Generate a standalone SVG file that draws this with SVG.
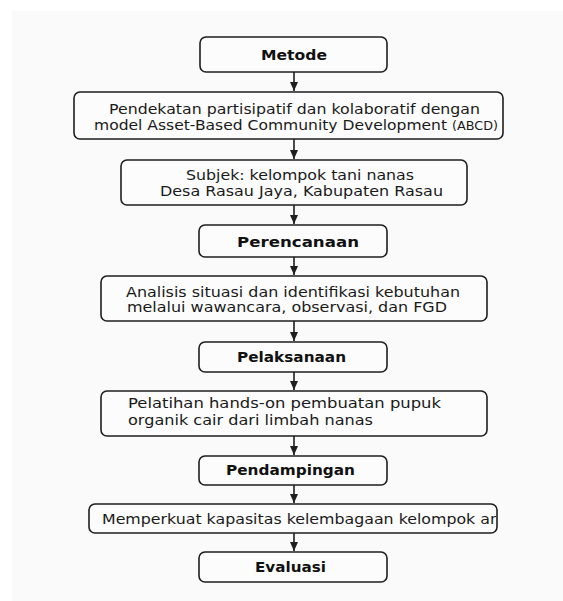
<svg xmlns="http://www.w3.org/2000/svg" width="563" height="601" viewBox="0 0 563 601">
<style>
.box{fill:#fcfcfc;stroke:#1e1e1e;stroke-width:1.6}
.t{font-family:"DejaVu Sans","Liberation Sans",sans-serif;font-size:14px;fill:#1a1a1a}
.b{font-family:"DejaVu Sans","Liberation Sans",sans-serif;font-size:14px;font-weight:bold;fill:#111}
.c{stroke:#1e1e1e;stroke-width:1.6;fill:none;marker-end:url(#ah)}
</style>
<defs>
<marker id="ah" markerWidth="10" markerHeight="8" refX="9" refY="4" orient="auto" markerUnits="userSpaceOnUse">
<path d="M0,0 L9,4 L0,8 Z" fill="#1e1e1e"/>
</marker>
<clipPath id="clipM"><rect x="89" y="504" width="407" height="29"/></clipPath>
</defs>
<rect x="0" y="0" width="563" height="601" fill="#ffffff"/>
<rect x="12" y="11" width="551" height="590" fill="#fafafa"/>
<g id="connectors">
<line class="c" x1="294" y1="72" x2="294" y2="91"/>
<line class="c" x1="294" y1="139" x2="294" y2="159"/>
<line class="c" x1="294" y1="205" x2="294" y2="224"/>
<line class="c" x1="294" y1="257" x2="294" y2="275"/>
<line class="c" x1="294" y1="321" x2="294" y2="341"/>
<line class="c" x1="294" y1="372" x2="294" y2="390"/>
<line class="c" x1="294" y1="436" x2="294" y2="455"/>
<line class="c" x1="294" y1="485" x2="294" y2="503"/>
<line class="c" x1="294" y1="533" x2="294" y2="551"/>
</g>
<g id="metode">
<rect class="box" x="200" y="37" width="187" height="35" rx="6"/>
<text class="b" x="261" y="60" textLength="66" lengthAdjust="spacingAndGlyphs">Metode</text>
</g>
<g id="abcd">
<rect class="box" x="74" y="92" width="429" height="47" rx="6"/>
<text class="t" x="109" y="113.5" textLength="371" lengthAdjust="spacingAndGlyphs">Pendekatan partisipatif dan kolaboratif dengan</text>
<text class="t" x="94" y="129.5" textLength="404" lengthAdjust="spacingAndGlyphs">model Asset-Based Community Development <tspan font-size="11.5">(ABCD)</tspan></text>
</g>
<g id="subjek">
<rect class="box" x="121" y="160" width="346" height="45" rx="6"/>
<text class="t" x="186" y="179.5" textLength="228" lengthAdjust="spacingAndGlyphs">Subjek: kelompok tani nanas</text>
<text class="t" x="160" y="195.5" textLength="283" lengthAdjust="spacingAndGlyphs">Desa Rasau Jaya, Kabupaten Rasau</text>
</g>
<g id="perencanaan">
<rect class="box" x="199" y="225" width="188" height="32" rx="6"/>
<text class="b" x="237" y="246.5" textLength="122" lengthAdjust="spacingAndGlyphs">Perencanaan</text>
</g>
<g id="analisis">
<rect class="box" x="101" y="276" width="386" height="45" rx="6"/>
<text class="t" x="126" y="297" textLength="334" lengthAdjust="spacingAndGlyphs">Analisis situasi dan identifikasi kebutuhan</text>
<text class="t" x="127" y="311.5" textLength="320" lengthAdjust="spacingAndGlyphs">melalui wawancara, observasi, dan FGD</text>
</g>
<g id="pelaksanaan">
<rect class="box" x="199" y="342" width="188" height="30" rx="6"/>
<text class="b" x="237" y="361.5" textLength="109" lengthAdjust="spacingAndGlyphs">Pelaksanaan</text>
</g>
<g id="pelatihan">
<rect class="box" x="101" y="391" width="386" height="45" rx="6"/>
<text class="t" x="128" y="408" textLength="313" lengthAdjust="spacingAndGlyphs">Pelatihan hands-on pembuatan pupuk</text>
<text class="t" x="128" y="425" textLength="245" lengthAdjust="spacingAndGlyphs">organik cair dari limbah nanas</text>
</g>
<g id="pendampingan">
<rect class="box" x="199" y="456" width="188" height="29" rx="6"/>
<text class="b" x="226" y="475" textLength="129" lengthAdjust="spacingAndGlyphs">Pendampingan</text>
</g>
<g id="memperkuat">
<rect class="box" x="89" y="504" width="408" height="29" rx="6"/>
<text class="t" x="102" y="523.5" textLength="398" lengthAdjust="spacingAndGlyphs" clip-path="url(#clipM)">Memperkuat kapasitas kelembagaan kelompok an</text>
</g>
<g id="evaluasi">
<rect class="box" x="199" y="552" width="188" height="30" rx="6"/>
<text class="b" x="255" y="571.5" textLength="71" lengthAdjust="spacingAndGlyphs">Evaluasi</text>
</g>
</svg>
